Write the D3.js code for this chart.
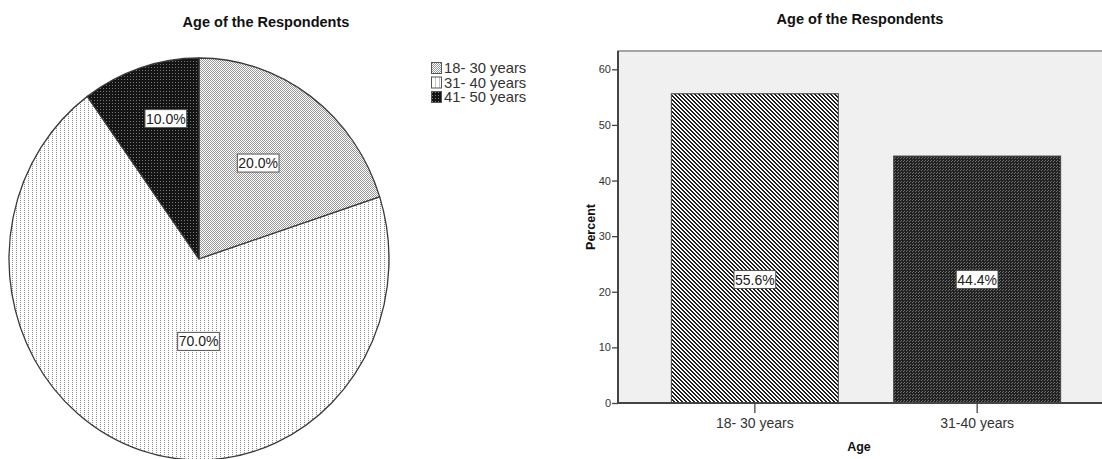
<!DOCTYPE html>
<html>
<head>
<meta charset="utf-8">
<script src="https://cdn.jsdelivr.net/npm/d3@7"></script>
<style>
  html, body { margin: 0; padding: 0; background: #fff; }
  svg { display: block; font-family: "Liberation Sans", Arial, sans-serif; }
</style>
</head>
<body>
<svg id="chart" width="1102" height="459"></svg>
<script>
// Pie: age groups and their share of respondents
const pieCategories = ["18- 30 years", "31- 40 years", "41- 50 years"];
const pieValues = [20.0, 70.0, 10.0];

// Bar: age groups and percent of respondents
const barCategories = ["18- 30 years", "31-40 years"];
const barValues = [55.6, 44.4];
const barTicks = [0, 10, 20, 30, 40, 50, 60];

const chartTitle = "Age of the Respondents";

const svg = d3.select("#chart");
const defs = svg.append("defs");

// Monochrome fill patterns
function pattern(id, w, h, bg, pixels, fg) {
  const p = defs.append("pattern").attr("id", id)
    .attr("patternUnits", "userSpaceOnUse")
    .attr("width", w).attr("height", h);
  p.append("rect").attr("width", w).attr("height", h).attr("fill", bg);
  pixels.forEach(([x, y]) => p.append("rect")
    .attr("x", x).attr("y", y).attr("width", 1).attr("height", 1)
    .attr("fill", fg).attr("shape-rendering", "crispEdges"));
}
pattern("pFine", 2, 2, "#ffffff", [[0, 0], [1, 1]], "#9a9a9a");
pattern("pSparse", 4, 2, "#ffffff", [[0, 0]], "#8c8c8c");
pattern("pDark", 3, 3, "#141414", [[1, 1]], "#7a7a7a");
pattern("pHatch", 4, 4, "#ffffff",
  [[0, 0], [1, 0], [1, 1], [2, 1], [2, 2], [3, 2], [3, 3], [0, 3]], "#1e1e1e");
pattern("pDarkBar", 3, 3, "#222222", [[1, 1], [0, 2]], "#6e6e6e");

const pieFills = ["url(#pFine)", "url(#pSparse)", "url(#pDark)"];
const barFills = ["url(#pHatch)", "url(#pDarkBar)"];

// ---------------- Pie ----------------
const cx = 199, cy = 259, rx = 190, ry = 201;
// where each label sits inside its slice (fraction of sweep, fraction of radius)
const pieLabelSweep = [0.46, 0.43, 0.61];
const pieLabelRadius = [0.57, 0.41, 0.72];

const pie = d3.pie().sort(null).startAngle(0).endAngle(2 * Math.PI);
const arcs = pie(pieValues);

const pt = (a, f = 1) => [cx + rx * f * Math.sin(a), cy - ry * f * Math.cos(a)];

function slicePath(d) {
  const [x0, y0] = pt(d.startAngle);
  const [x1, y1] = pt(d.endAngle);
  const large = d.endAngle - d.startAngle > Math.PI ? 1 : 0;
  return `M${cx},${cy}L${x0},${y0}A${rx},${ry} 0 ${large} 1 ${x1},${y1}Z`;
}

svg.append("text")
  .attr("x", 266).attr("y", 27)
  .attr("text-anchor", "middle")
  .attr("font-size", 14.5).attr("font-weight", "bold")
  .attr("fill", "#111")
  .text(chartTitle);

const pieG = svg.append("g");
pieG.selectAll("path.slice").data(arcs).join("path")
  .attr("class", "slice")
  .attr("d", slicePath)
  .attr("fill", (d, i) => pieFills[i])
  .attr("stroke", "#3a3a3a")
  .attr("stroke-width", 1.3)
  .attr("stroke-linejoin", "round");

const pieLabels = pieG.selectAll("g.plabel").data(arcs).join("g")
  .attr("class", "plabel")
  .attr("transform", (d, i) => {
    const a = d.startAngle + (d.endAngle - d.startAngle) * pieLabelSweep[i];
    const [x, y] = pt(a, pieLabelRadius[i]);
    return `translate(${x},${y})`;
  });

function boxedLabel(sel, textFn, size) {
  sel.each(function (d, i) {
    const g = d3.select(this);
    const t = g.append("text")
      .attr("text-anchor", "middle")
      .attr("dy", "0.36em")
      .attr("font-size", size)
      .attr("fill", "#222")
      .text(textFn(d, i));
    const bb = t.node().getBBox();
    g.insert("rect", "text")
      .attr("x", bb.x - 1).attr("y", -9)
      .attr("width", bb.width + 2).attr("height", 18)
      .attr("fill", "#fff")
      .attr("stroke", "#555").attr("stroke-width", 1);
  });
}
boxedLabel(pieLabels, d => d3.format(".1f")(d.data) + "%", 14);

// Legend
const legend = svg.append("g").attr("transform", "translate(431,62)");
const li = legend.selectAll("g").data(pieCategories).join("g")
  .attr("transform", (d, i) => `translate(0,${i * 14.5})`);
li.append("rect")
  .attr("x", 0.5).attr("y", 0.5).attr("width", 10).attr("height", 11)
  .attr("fill", (d, i) => pieFills[i])
  .attr("stroke", "#555").attr("stroke-width", 1);
li.append("text")
  .attr("x", 13).attr("y", 6).attr("dy", "0.36em")
  .attr("font-size", 14.8).attr("fill", "#333")
  .text(d => d);

// ---------------- Bar ----------------
const plot = { left: 618, right: 1114, top: 51, bottom: 403 };

const x = d3.scaleBand()
  .domain(barCategories)
  .range([plot.left, plot.right])
  .paddingInner(0.249)
  .paddingOuter(0.24);

const y = d3.scaleLinear()
  .domain([0, 60])
  .range([plot.bottom, 69.3]);

svg.append("text")
  .attr("x", 860).attr("y", 24)
  .attr("text-anchor", "middle")
  .attr("font-size", 14.5).attr("font-weight", "bold")
  .attr("fill", "#111")
  .text(chartTitle);

svg.append("rect")
  .attr("x", plot.left).attr("y", plot.top)
  .attr("width", plot.right - plot.left).attr("height", plot.bottom - plot.top)
  .attr("fill", "#f0f0f0")
  .attr("stroke", "#8a8a8a").attr("stroke-width", 1.5);

svg.selectAll("rect.bar").data(barValues).join("rect")
  .attr("class", "bar")
  .attr("x", (d, i) => x(barCategories[i]))
  .attr("y", d => y(d))
  .attr("width", x.bandwidth())
  .attr("height", d => plot.bottom - y(d))
  .attr("fill", (d, i) => barFills[i])
  .attr("stroke", "#444").attr("stroke-width", 1);

const labelLevel = y(d3.min(barValues) / 2);
const barLabels = svg.selectAll("g.blabel").data(barValues).join("g")
  .attr("class", "blabel")
  .attr("transform", (d, i) => `translate(${x(barCategories[i]) + x.bandwidth() / 2},${labelLevel})`);
boxedLabel(barLabels, d => d3.format(".1f")(d) + "%", 14);

// Axes
const yAxis = svg.append("g")
  .attr("transform", `translate(${plot.left},0)`)
  .call(d3.axisLeft(y).tickValues(barTicks).tickSize(6).tickPadding(1).tickFormat(d3.format("d")));
yAxis.select(".domain").attr("stroke", "#444").attr("stroke-width", 2)
  .attr("d", `M0,${plot.top}V${plot.bottom}`);
yAxis.selectAll(".tick line").attr("stroke", "#444").attr("stroke-width", 1.3);
yAxis.selectAll(".tick text").attr("font-size", 11).attr("fill", "#333")
  .attr("font-family", "Liberation Sans, Arial, sans-serif");

const xAxis = svg.append("g")
  .attr("transform", `translate(0,${plot.bottom})`)
  .call(d3.axisBottom(x).tickSize(10).tickPadding(5));
xAxis.select(".domain").attr("stroke", "#444").attr("stroke-width", 2)
  .attr("d", `M${plot.left},0H${plot.right}`);
xAxis.selectAll(".tick line").attr("stroke", "#444").attr("stroke-width", 1.3);
xAxis.selectAll(".tick text").attr("font-size", 14).attr("fill", "#333")
  .attr("font-family", "Liberation Sans, Arial, sans-serif");

svg.append("text")
  .attr("x", 859).attr("y", 451)
  .attr("text-anchor", "middle")
  .attr("font-size", 12.5).attr("font-weight", "bold").attr("fill", "#111")
  .text("Age");

svg.append("text")
  .attr("transform", `translate(595,${(plot.top + plot.bottom) / 2}) rotate(-90)`)
  .attr("text-anchor", "middle")
  .attr("font-size", 12.5).attr("font-weight", "bold").attr("fill", "#111")
  .text("Percent");
</script>
</body>
</html>
